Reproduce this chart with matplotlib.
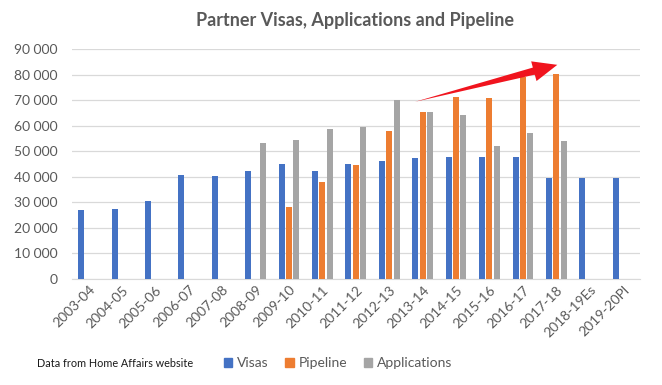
import numpy as np
import matplotlib
matplotlib.use("Agg")
import matplotlib.pyplot as plt
from matplotlib.ticker import FuncFormatter
from matplotlib.patches import Patch

plt.rcParams['font.family'] = ['Lato', 'DejaVu Sans']

years = ['2003-04', '2004-05', '2005-06', '2006-07', '2007-08', '2008-09',
         '2009-10', '2010-11', '2011-12', '2012-13', '2013-14', '2014-15',
         '2015-16', '2016-17', '2017-18', '2018-19Es', '2019-20Pl']
visas = [26900, 27300, 30500, 40600, 40300, 42100, 45000, 42100, 45000,
         46200, 47500, 47800, 47800, 47800, 39700, 39700, 39700]
pipeline = [None, None, None, None, None, None, 28100, 37800, 44800,
            57900, 65400, 71100, 70900, 79300, 80400, None, None]
applications = [None, None, None, None, None, 53400, 54300, 58600, 59700,
                70100, 65500, 64100, 52000, 57000, 54100, None, None]

BLUE = '#4472C4'
ORANGE = '#ED7D31'
GREY = '#A5A5A5'
RED = '#F0141E'


def clean(vals):
    return np.array([np.nan if v is None else v for v in vals], dtype=float)


fig = plt.figure(figsize=(6.62, 3.85), dpi=100)
ax = fig.add_axes([0.1085, 0.276, 0.858, 0.596])

x = np.arange(len(years))
w = 0.18
off = 0.22
ax.bar(x - off, clean(visas), w, color=BLUE, zorder=3)
ax.bar(x, clean(pipeline), w, color=ORANGE, zorder=3)
ax.bar(x + off, clean(applications), w, color=GREY, zorder=3)

ax.set_xlim(-0.5, len(years) - 0.5)
ax.set_ylim(0, 90000)
ax.set_yticks(np.arange(0, 90001, 10000))
ax.yaxis.set_major_formatter(FuncFormatter(lambda v, p: f'{int(v):,}'.replace(',', ' ')))
ax.grid(axis='y', color='#D9D9D9', linewidth=0.9, zorder=0)
for s in ['top', 'right', 'left']:
    ax.spines[s].set_visible(False)
ax.spines['bottom'].set_color('#D9D9D9')
ax.tick_params(axis='both', length=0, colors='#595959', labelsize=10)
ax.tick_params(axis='y', pad=10.5)
ax.set_xticks(x)
ax.set_xticklabels(years, rotation=45, ha='right', rotation_mode='anchor', fontsize=10)

# red trend arrow: tapered shaft (wedge) plus a filled head
ax.annotate('', xy=(9.77, 69400), xytext=(13.55, 82200),
            arrowprops=dict(arrowstyle='wedge,tail_width=0.4', color=RED,
                            mutation_scale=14, shrinkA=0, shrinkB=0, lw=0),
            zorder=5)
ax.annotate('', xy=(14.03, 83900), xytext=(13.3, 81300),
            arrowprops=dict(arrowstyle='simple,head_length=1.25,head_width=1.05,tail_width=0.35',
                            color=RED, mutation_scale=14, shrinkA=0, shrinkB=0, lw=0),
            zorder=5)

fig.text(0.536, 0.947, 'Partner Visas, Applications and Pipeline', ha='center', va='center',
         fontsize=13, fontweight='bold', color='#595959')

fig.text(0.056, 0.057, 'Data from Home Affairs website', ha='left', va='center',
         fontsize=7.8, color='#1a1a1a')

handles = [Patch(color=BLUE, label='Visas'), Patch(color=ORANGE, label='Pipeline'),
           Patch(color=GREY, label='Applications')]
leg = fig.legend(handles=handles, loc='center left', bbox_to_anchor=(0.338, 0.057), ncol=3,
                 frameon=False, fontsize=10, handlelength=0.6, handleheight=0.6,
                 handletextpad=0.35, columnspacing=1.2, borderpad=0, borderaxespad=0)
for t in leg.get_texts():
    t.set_color('#595959')

fig.savefig('out.png', dpi=100)
